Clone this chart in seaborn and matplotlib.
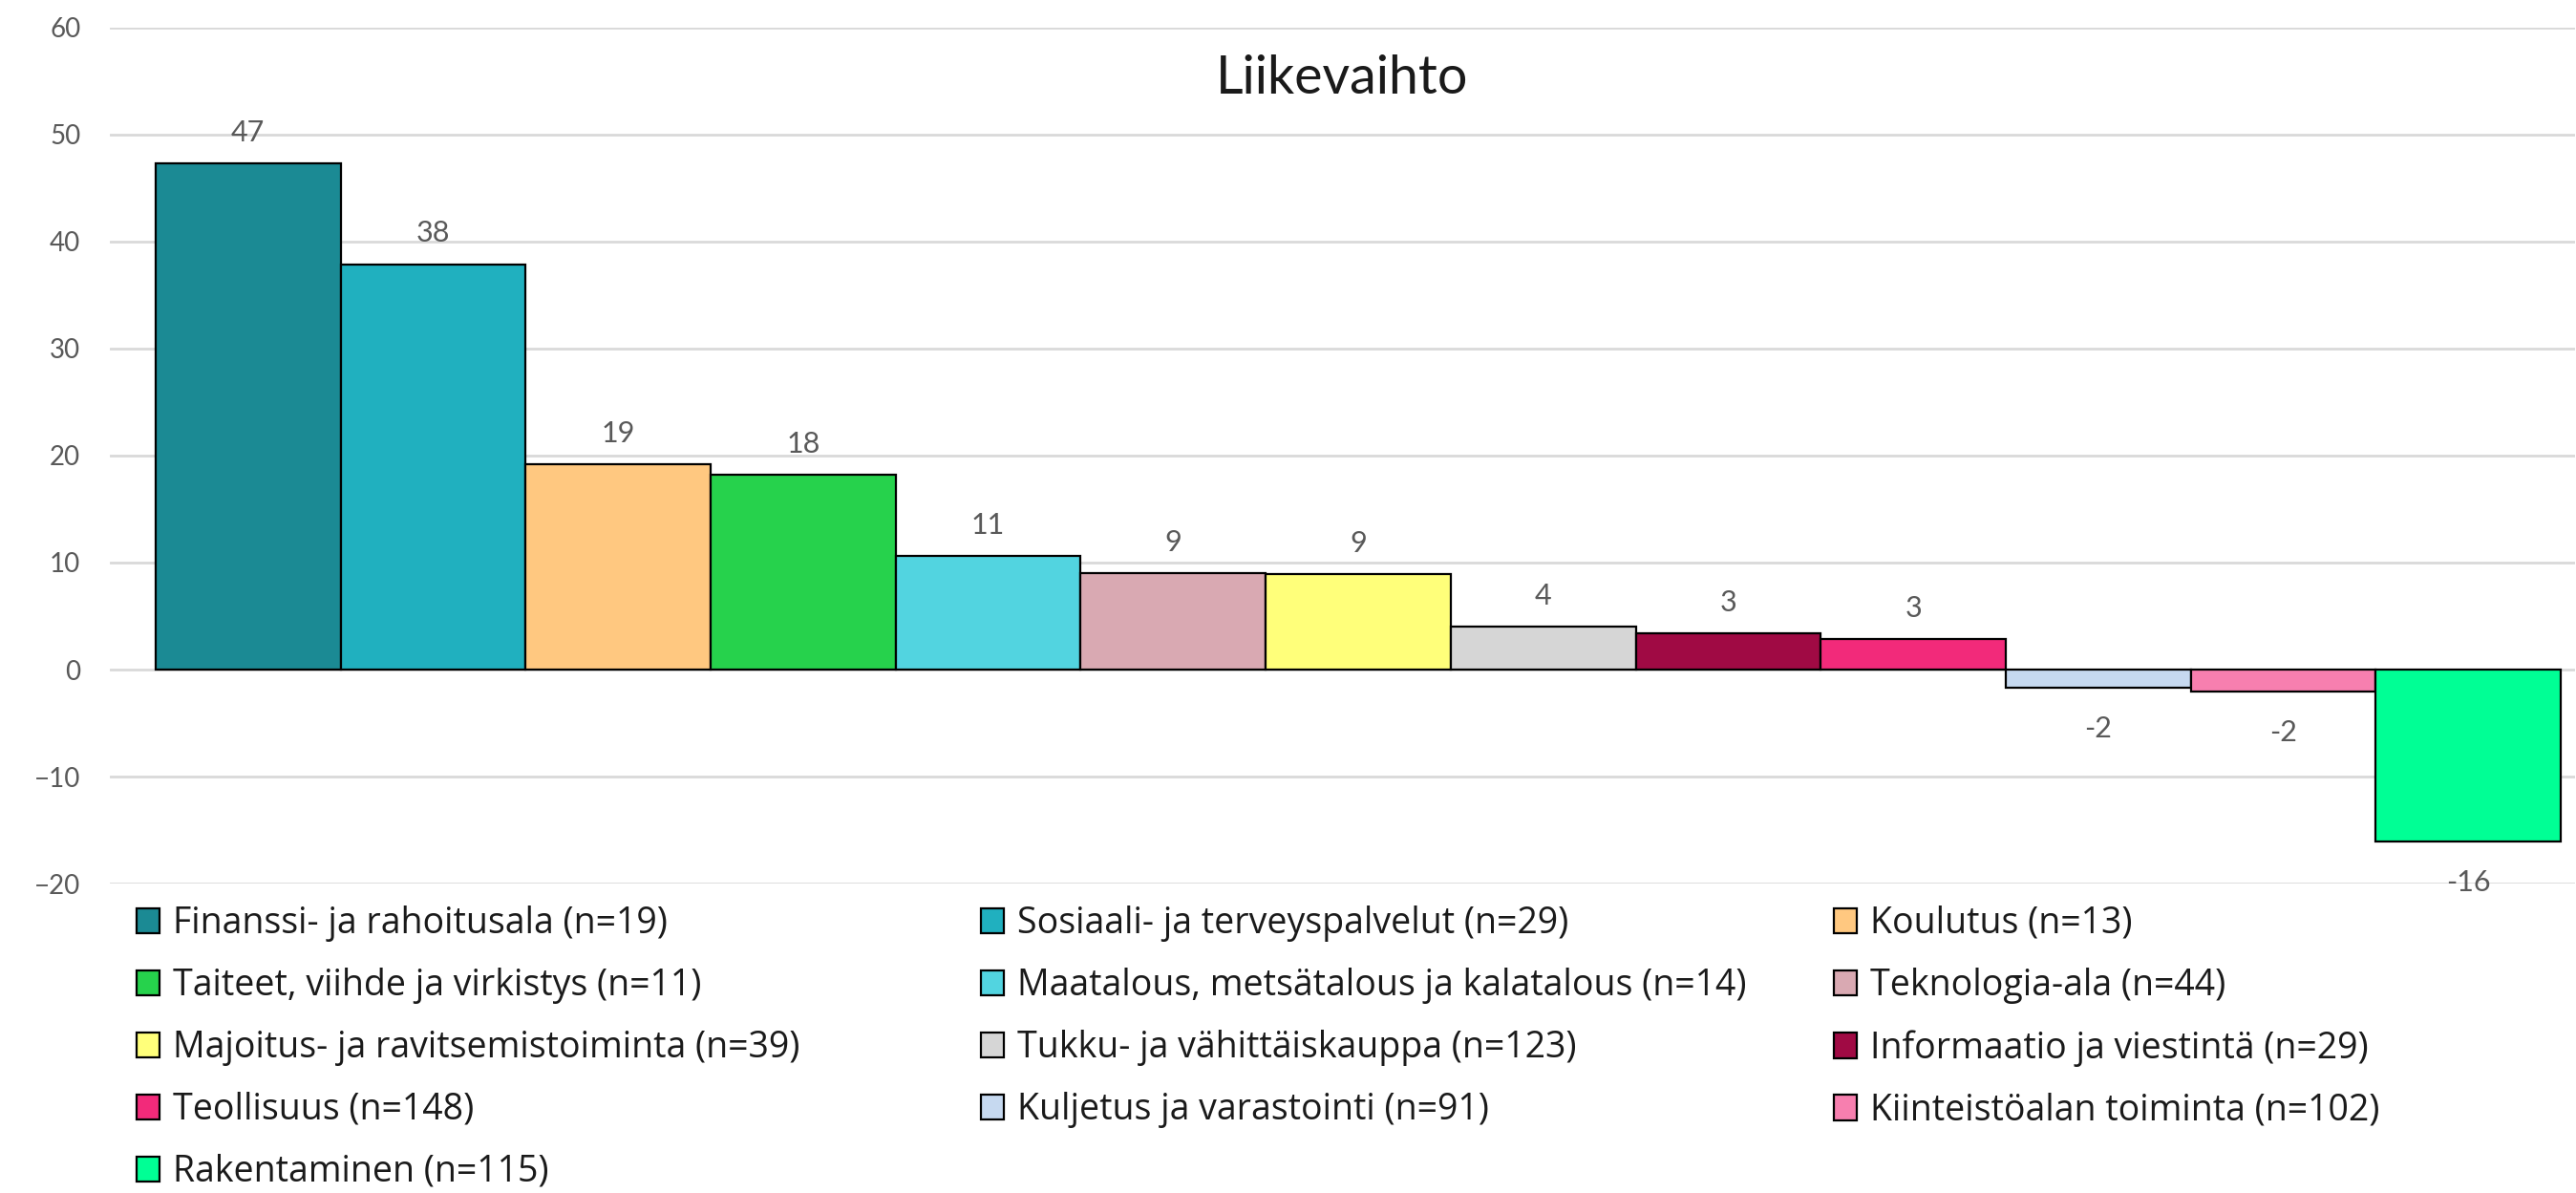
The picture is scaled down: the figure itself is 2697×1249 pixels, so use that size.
import matplotlib
matplotlib.use("Agg")
import matplotlib.pyplot as plt
import seaborn as sns
import pandas as pd

categories = [
    "Finanssi- ja rahoitusala (n=19)",
    "Sosiaali- ja terveyspalvelut (n=29)",
    "Koulutus (n=13)",
    "Taiteet, viihde ja virkistys (n=11)",
    "Maatalous, metsätalous ja kalatalous (n=14)",
    "Teknologia-ala (n=44)",
    "Majoitus- ja ravitsemistoiminta (n=39)",
    "Tukku- ja vähittäiskauppa (n=123)",
    "Informaatio ja viestintä (n=29)",
    "Teollisuus (n=148)",
    "Kuljetus ja varastointi (n=91)",
    "Kiinteistöalan toiminta (n=102)",
    "Rakentaminen (n=115)",
]
values = [47.3, 37.9, 19.2, 18.2, 10.6, 9.0, 8.9, 4.0, 3.4, 2.85, -1.7, -2.05, -16.1]
value_labels = ["47", "38", "19", "18", "11", "9", "9", "4", "3", "3", "-2", "-2", "-16"]
colors = ["#1B8A94", "#20B0BF", "#FFC880", "#26D24C", "#52D4E0", "#D9A9B2",
          "#FFFF7A", "#D6D6D6", "#A00A44", "#F22A7A", "#C6D9F0", "#F77FAF", "#00FF95"]
yticks = [-20, -10, 0, 10, 20, 30, 40, 50, 60]
title = "Liikevaihto"

sns.set_theme(style="white")
plt.rcParams["font.family"] = ["Lato", "DejaVu Sans"]

df = pd.DataFrame({"cat": categories, "val": values})

fig = plt.figure(figsize=(26.97, 12.49), dpi=100)
ax = fig.add_axes([0.0426, 0.2594, 0.957, 0.7174])

sns.barplot(data=df, x="cat", y="val", hue="cat", palette=colors, width=1.0,
            saturation=1, edgecolor="black", linewidth=1.6, legend=False,
            ax=ax, dodge=False)

ax.set_ylim(-20, 60)
ax.set_xlim(-0.748, 12.577)
ax.set_yticks(yticks)
ax.set_xticks([])
ax.set_xlabel("")
ax.set_ylabel("")
ax.yaxis.grid(True, color="#D9D9D9", linewidth=2)
ax.set_axisbelow(True)
for s in ax.spines.values():
    s.set_visible(False)
ax.tick_params(axis="y", length=0, labelsize=20, labelcolor="#595959", pad=22)

for cont, lab, v in zip(ax.containers, value_labels, values):
    ax.bar_label(cont, labels=[lab], padding=13 if v >= 0 else 21,
                 fontsize=22, color="#595959")

ax.text(0.5, 0.94, title, transform=ax.transAxes, ha="center", va="center",
        fontsize=40, color="#1a1a1a")

handles = [cont[0] for cont in ax.containers]
cols = [[0, 3, 6, 9, 12], [1, 4, 7, 10], [2, 5, 8, 11]]
xs = [143 / 2697, 1027 / 2697, 1920 / 2697]
for idx, x0 in zip(cols, xs):
    leg = fig.legend([handles[i] for i in idx], [categories[i] for i in idx],
                     loc="upper left", bbox_to_anchor=(x0, 0.241), frameon=False,
                     prop={"family": ["Open Sans", "DejaVu Sans"], "size": 27},
                     borderpad=0, borderaxespad=0, handlelength=0.64,
                     handleheight=0.72, handletextpad=0.38, labelspacing=0.72)
    for t in leg.get_texts():
        t.set_color("#1a1a1a")

fig.savefig("out.png", dpi=100)
